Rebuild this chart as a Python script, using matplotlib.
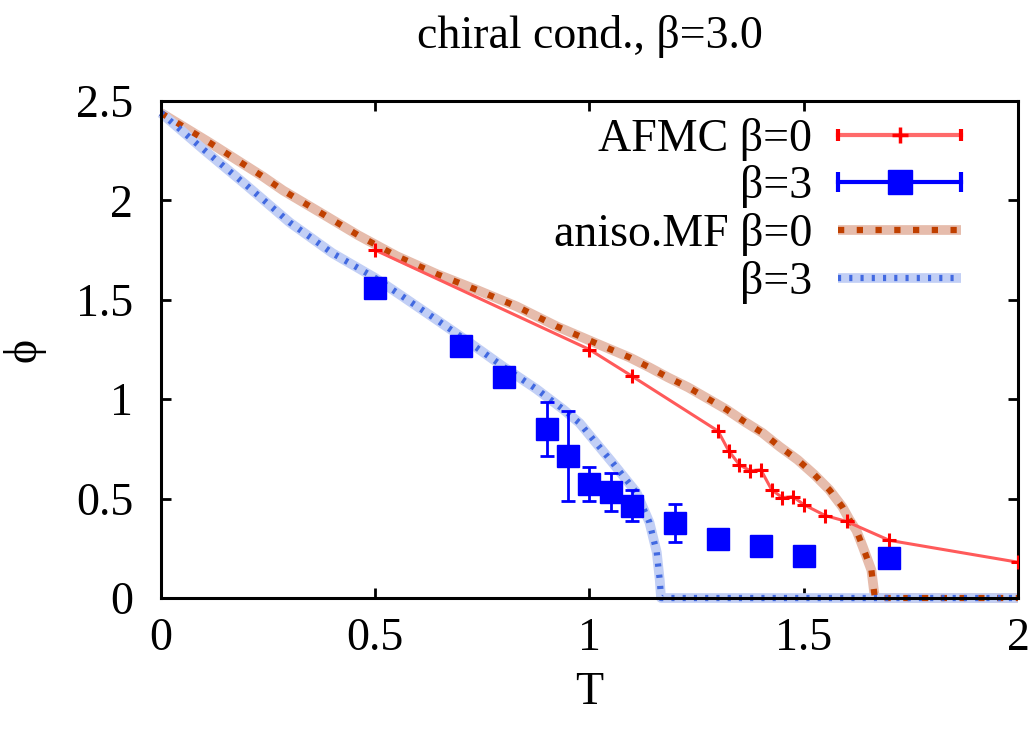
import matplotlib
matplotlib.use("Agg")
import matplotlib.pyplot as plt
from matplotlib.legend_handler import HandlerTuple, HandlerLine2D
from matplotlib.lines import Line2D

# AFMC beta=0 (赤, + マーカー)
afmc0_T = [0.5, 1.0, 1.1, 1.3, 1.325, 1.35, 1.375, 1.40, 1.425, 1.45, 1.475, 1.50, 1.55, 1.60, 1.70, 2.0]
afmc0_phi = [1.75, 1.25, 1.115, 0.84, 0.74, 0.67, 0.64, 0.645, 0.545, 0.505, 0.51, 0.47, 0.415, 0.385, 0.29, 0.18]

# AFMC beta=3 (青四角, エラーバー付き)
afmc3_T = [0.5, 0.7, 0.8, 0.9, 0.95, 1.0, 1.05, 1.1, 1.2, 1.3, 1.4, 1.5, 1.7]
afmc3_phi = [1.56, 1.27, 1.11, 0.85, 0.715, 0.575, 0.535, 0.465, 0.378, 0.297, 0.262, 0.212, 0.20]
afmc3_err = [0.02, 0.02, 0.03, 0.135, 0.225, 0.085, 0.095, 0.08, 0.095, 0.02, 0.02, 0.02, 0.02]

# aniso.MF beta=0
mf0_T = [0.0, 0.114, 0.238, 0.285, 0.371, 0.46, 0.55, 0.643, 0.737, 0.83, 0.924, 1.017, 1.094,
         1.14, 1.183, 1.23, 1.276, 1.32, 1.362, 1.404, 1.444, 1.486, 1.525, 1.56, 1.59, 1.607,
         1.623, 1.638, 1.658, 1.666, 2.0]
mf0_phi = [2.44, 2.29, 2.12, 2.05, 1.94, 1.825, 1.72, 1.63, 1.55, 1.467, 1.366, 1.28, 1.21,
           1.16, 1.11, 1.06, 1.003, 0.948, 0.887, 0.83, 0.761, 0.695, 0.62, 0.544, 0.459, 0.393,
           0.34, 0.257, 0.14, 0.0, 0.0]

# aniso.MF beta=3
mf3_T = [0.0, 0.1, 0.2, 0.3, 0.4, 0.5, 0.565, 0.643, 0.72, 0.798, 0.877, 0.938,
         0.977, 1.054, 1.11, 1.14, 1.157, 1.164, 1.167, 2.0]
mf3_phi = [2.44, 2.255, 2.075, 1.89, 1.735, 1.61, 1.515, 1.40, 1.285, 1.165, 1.05, 0.95,
           0.88, 0.68, 0.53, 0.38, 0.23, 0.09, 0.0, 0.0]

xticks = [0, 0.5, 1, 1.5, 2]
xticklabels = ["0", "0.5", "1", "1.5", "2"]
yticks = [0, 0.5, 1, 1.5, 2, 2.5]
yticklabels = ["0", "0.5", "1", "1.5", "2", "2.5"]

plt.rcParams['font.family'] = ['Liberation Serif', 'DejaVu Serif']
FS = 33

fig = plt.figure(figsize=(10.34, 7.30), dpi=100)
ax = fig.add_axes([0.1557, 0.1808, 0.8288, 0.6808])

# MF 曲線: 太い薄色帯 + 濃い点線
mf0_band, = ax.plot(mf0_T, mf0_phi, color='#e6bcac', lw=7, solid_capstyle='butt', clip_on=False, zorder=2)
mf0_dot, = ax.plot(mf0_T, mf0_phi, color='#c04000', lw=4.5, ls=(0, (1, 2)), clip_on=False, zorder=2.1)
mf3_band, = ax.plot(mf3_T, mf3_phi, color='#c2cff5', lw=7, solid_capstyle='butt', clip_on=False, zorder=2)
mf3_dot, = ax.plot(mf3_T, mf3_phi, color='#4169e1', lw=4.5, ls=(0, (0.5, 1.3)), clip_on=False, zorder=2.1)

# AFMC beta=0
ax.plot(afmc0_T, afmc0_phi, color='#ff5a5a', lw=2.2, marker='+', ms=10, mew=2.2,
        mec='#ff0000', zorder=3)

# AFMC beta=3
ax.errorbar(afmc3_T, afmc3_phi, yerr=afmc3_err, fmt='s', color='#0000ff', ms=16,
            elinewidth=2, capsize=5, capthick=2, zorder=4)

ax.set_xlim(0, 2)
ax.set_ylim(0, 2.5)
ax.set_xticks(xticks)
ax.set_xticklabels(xticklabels)
ax.set_yticks(yticks)
ax.set_yticklabels(yticklabels)
ax.tick_params(direction='in', length=7, width=2, top=True, right=True, labelsize=FS)
ax.tick_params(axis='x', pad=14)
ax.tick_params(axis='y', pad=20)
for s in ax.spines.values():
    s.set_linewidth(2.2)

ax.set_xlabel("T", fontsize=FS, labelpad=8)
ax.set_ylabel("ϕ", fontsize=FS, labelpad=22)
ax.set_title("chiral cond., β=3.0", fontsize=FS, pad=38)

# 凡例用ハンドル (gnuplot 風: 線 + 端のキャップ)
h_red = Line2D([], [], color='#ff6a6a', lw=3, marker='+', ms=12, mew=2.5, mec='#ff0000')
h_red_cap = Line2D([], [], color='#ff0000', lw=0, marker='|', ms=9, mew=3)
h_blue = Line2D([], [], color='#0000ff', lw=3, marker='s', ms=17)
h_blue_cap = Line2D([], [], color='#0000ff', lw=0, marker='|', ms=14, mew=3)

leg = ax.legend([(h_red, h_red_cap), (h_blue, h_blue_cap), (mf0_band, mf0_dot), (mf3_band, mf3_dot)],
                ["AFMC β=0", "β=3", "aniso.MF β=0", "β=3"],
                handler_map={tuple: HandlerTuple(ndivide=1, pad=0),
                             h_red_cap: HandlerLine2D(numpoints=2, marker_pad=0),
                             h_blue_cap: HandlerLine2D(numpoints=2, marker_pad=0)},
                loc='upper right', bbox_to_anchor=(0.942, 0.98), borderaxespad=0, borderpad=0.15,
                frameon=False, markerfirst=False, fontsize=FS, handlelength=2.7,
                handletextpad=0.55, labelspacing=0.1)

fig.savefig("out.png", dpi=100)
